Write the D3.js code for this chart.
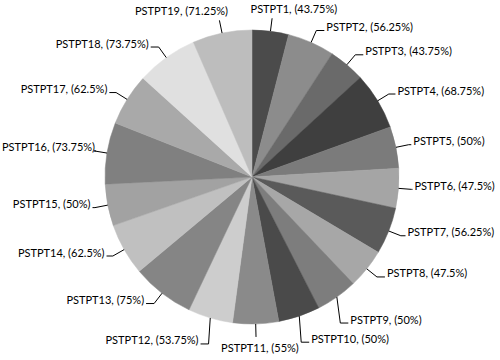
<!DOCTYPE html>
<html>
<head>
<meta charset="utf-8">
<script src="https://cdn.jsdelivr.net/npm/d3@7"></script>
<style>
  html, body { margin: 0; padding: 0; background: #fff; }
  svg { display: block; }
</style>
</head>
<body>
<div id="chart"></div>
<script>
// Pie chart of PSTPT items, grey Excel-like palette, outside labels with leader lines

const categories = ["PSTPT1", "PSTPT2", "PSTPT3", "PSTPT4", "PSTPT5", "PSTPT6", "PSTPT7",
  "PSTPT8", "PSTPT9", "PSTPT10", "PSTPT11", "PSTPT12", "PSTPT13", "PSTPT14", "PSTPT15",
  "PSTPT16", "PSTPT17", "PSTPT18", "PSTPT19"];
const values = [43.75, 56.25, 43.75, 68.75, 50, 47.5, 56.25, 47.5, 50, 50, 55, 53.75,
  75, 62.5, 50, 73.75, 62.5, 73.75, 71.25];
const palette = ["#4b4b4b", "#8c8c8c", "#6a6a6a", "#3f3f3f", "#7b7b7b", "#a5a5a5", "#5a5a5a",
  "#a7a7a7", "#7d7d7d", "#4a4a4a", "#8a8a8a", "#cdcdcd", "#858585", "#c0c0c0", "#a2a2a2",
  "#808080", "#a9a9a9", "#e0e0e0", "#bdbdbd"];

const width = 500, height = 360;
const cx = 252, cy = 177, radius = 147, labelRadius = 160;

const data = categories.map((c, i) => ({ name: c, value: values[i], color: palette[i] }));

const svg = d3.select("#chart")
  .append("svg")
  .attr("width", width)
  .attr("height", height);

svg.append("rect")
  .attr("width", width).attr("height", height)
  .attr("fill", "#fff");

const pie = d3.pie()
  .sort(null)
  .value(d => d.value);

const arc = d3.arc()
  .innerRadius(0)
  .outerRadius(radius);

const arcs = pie(data);

const g = svg.append("g")
  .attr("transform", `translate(${cx}, ${cy})`);

g.selectAll("path.slice")
  .data(arcs)
  .join("path")
  .attr("class", "slice")
  .attr("d", arc)
  .attr("fill", d => d.data.color)
  .attr("stroke", d => d.data.color)
  .attr("stroke-width", 0.5);

// Labels and leader lines (coordinates relative to pie centre)
const line = d3.line();
const minX = -cx + 2, maxX = width - cx - 2;

function leader(points) {
  g.append("path")
    .attr("d", line(points))
    .attr("fill", "none")
    .attr("stroke", "#000")
    .attr("stroke-width", 1);
}

arcs.forEach(d => {
  const a = (d.startAngle + d.endAngle) / 2;
  const ux = Math.sin(a), uy = -Math.cos(a);
  const A = [radius * ux, radius * uy];
  const label = `${d.data.name}, (${d.data.value}%)`;

  const text = g.append("text")
    .style("font-family", "Lato, 'Open Sans', sans-serif")
    .style("font-size", "11px")
    .style("fill", "#000")
    .text(label);
  const w = text.node().getComputedTextLength();

  if (Math.abs(ux) < 0.25) {
    // top / bottom labels: leader runs straight into the label box
    const P = [labelRadius * ux, labelRadius * uy];
    leader([A, P]);
    const frac = Math.max(0, Math.min(1, 0.5 - ux * 2));
    text.attr("x", P[0] - frac * w)
      .attr("y", uy < 0 ? P[1] - 5 : P[1] + 15);
  } else {
    const side = ux > 0 ? 1 : -1;
    // labels near the bottom hang further down
    const P = uy > 0.8
      ? [A[0] + ux * 6, A[1] + 26]
      : [labelRadius * ux, labelRadius * uy];
    const seg = 8 * Math.min(1, Math.abs(uy) * 1.6);
    let tx = P[0] + side * (seg + 2);
    // keep the label inside the picture
    if (side < 0 && tx - w < minX) tx = minX + w;
    if (side > 0 && tx + w > maxX) tx = maxX - w;
    const segEnd = side > 0
      ? Math.min(P[0] + seg, tx - 1)
      : Math.max(P[0] - seg, tx + 1);
    leader([A, P, [segEnd, P[1]]]);
    text.attr("x", tx)
      .attr("y", P[1] + 0.5)
      .attr("text-anchor", side > 0 ? "start" : "end");
  }
});
</script>
</body>
</html>
